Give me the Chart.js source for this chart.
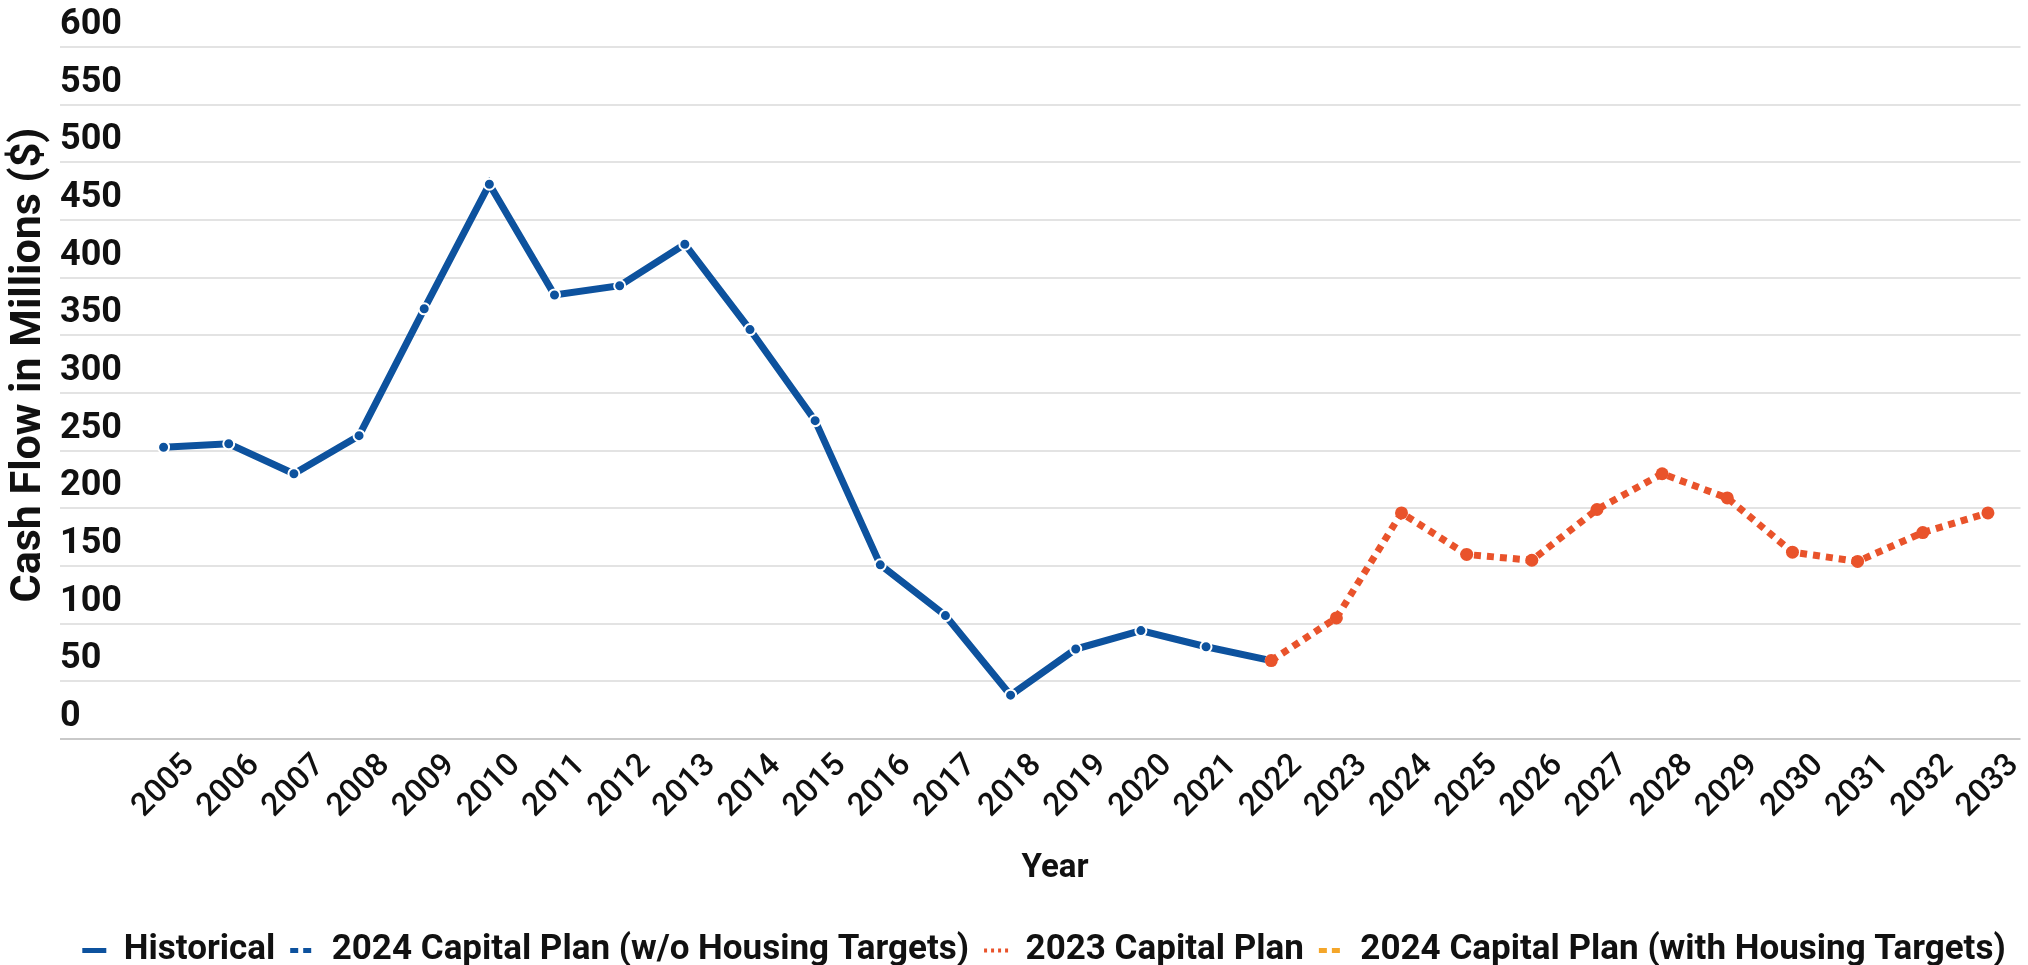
<!DOCTYPE html>
<html>
<head>
<meta charset="utf-8">
<script src="https://cdn.jsdelivr.net/npm/chart.js@4.4.1/dist/chart.umd.min.js"></script>
<style>
  html, body { margin: 0; padding: 0; background: #ffffff; }
  #wrap { width: 2028px; height: 965px; position: relative; }
</style>
</head>
<body>
<div id="wrap"><canvas id="c" width="2028" height="965"></canvas></div>
<script>
const years = ['2005','2006','2007','2008','2009','2010','2011','2012','2013','2014','2015','2016','2017','2018','2019','2020','2021','2022','2023','2024','2025','2026','2027','2028','2029','2030','2031','2032','2033'];
const historical = [253,256,230,263,373,481,385,393,429,355,276,151,107,38,78,94,80,68,null,null,null,null,null,null,null,null,null,null,null];
const plan2024NoHousing = [];
const plan2023 = [null,null,null,null,null,null,null,null,null,null,null,null,null,null,null,null,null,68,105,196,160,155,199,230,209,162,154,179,196];
const plan2024Housing = [];
const yTicks = [0,50,100,150,200,250,300,350,400,450,500,550,600];
const yTitle = 'Cash Flow in Millions ($)';
const xTitle = 'Year';

const BLUE = '#0d529e';
const ORANGE = '#e9532b';
const YELLOW = '#f4a62a';
const FONT = 'Roboto, "Liberation Sans", sans-serif';

const legendStyles = [
  { color: BLUE, width: 5, dash: [] },
  { color: BLUE, width: 5, dash: [8, 5] },
  { color: ORANGE, width: 4, dash: [3, 4] },
  { color: YELLOW, width: 5, dash: [8, 5] }
];

const titlePlugin = {
  id: 'titles',
  afterDraw(chart) {
    const ctx = chart.ctx;
    ctx.save();
    ctx.fillStyle = '#111111';
    ctx.textAlign = 'center';
    ctx.textBaseline = 'middle';
    ctx.font = 'bold 43px ' + FONT;
    ctx.translate(29, 365);
    ctx.rotate(-Math.PI / 2);
    ctx.fillText(yTitle, 0, 0);
    ctx.restore();
    ctx.save();
    ctx.fillStyle = '#111111';
    ctx.textAlign = 'center';
    ctx.textBaseline = 'middle';
    ctx.font = 'bold 33px ' + FONT;
    ctx.fillText(xTitle, 1055, 869);
    ctx.restore();
  }
};

new Chart(document.getElementById('c'), {
  type: 'line',
  data: {
    labels: years,
    datasets: [
      {
        label: 'Historical',
        data: historical,
        borderColor: BLUE,
        backgroundColor: BLUE,
        borderWidth: 7,
        pointRadius: 5.5,
        pointBackgroundColor: BLUE,
        pointBorderColor: '#ffffff',
        pointBorderWidth: 2,
        tension: 0,
        spanGaps: false,
        order: 2
      },
      {
        label: '2024 Capital Plan (w/o Housing Targets)',
        data: plan2024NoHousing,
        borderColor: BLUE,
        backgroundColor: BLUE,
        borderWidth: 5,
        borderDash: [9, 5],
        pointRadius: 0,
        order: 3
      },
      {
        label: '2023 Capital Plan',
        data: plan2023,
        borderColor: ORANGE,
        backgroundColor: ORANGE,
        borderWidth: 7,
        borderDash: [7, 6],
        borderCapStyle: 'butt',
        pointRadius: 6.5,
        pointBackgroundColor: ORANGE,
        pointBorderColor: ORANGE,
        pointBorderWidth: 0,
        tension: 0,
        order: 1
      },
      {
        label: '2024 Capital Plan (with Housing Targets)',
        data: plan2024Housing,
        borderColor: YELLOW,
        backgroundColor: YELLOW,
        borderWidth: 5,
        borderDash: [9, 5],
        pointRadius: 0,
        order: 4
      }
    ]
  },
  options: {
    responsive: false,
    animation: false,
    devicePixelRatio: 1,
    layout: { padding: { left: 60, top: 47, right: 0, bottom: -13 } },
    plugins: {
      legend: {
        display: true,
        position: 'bottom',
        labels: {
          usePointStyle: true,
          pointStyleWidth: 24,
          padding: 15,
          color: '#111111',
          font: { family: FONT, size: 35, weight: 'bold' },
          generateLabels(chart) {
            return chart.data.datasets.map((ds, i) => ({
              text: ds.label,
              datasetIndex: i,
              fillStyle: legendStyles[i].color,
              strokeStyle: legendStyles[i].color,
              lineWidth: legendStyles[i].width,
              lineDash: legendStyles[i].dash,
              lineCap: 'butt',
              pointStyle: 'line',
              hidden: false,
              fontColor: '#111111'
            }));
          }
        }
      },
      tooltip: { enabled: false }
    },
    scales: {
      x: {
        type: 'category',
        offset: true,
        grid: { display: false, drawTicks: false },
        border: { display: false },
        ticks: {
          autoSkip: false,
          maxRotation: 45,
          minRotation: 45,
          labelOffset: 26,
          padding: 8,
          color: '#111111',
          font: { family: FONT, size: 32, weight: '500' }
        },
        afterFit(scale) { scale.height = 179; }
      },
      y: {
        min: 0,
        max: 600,
        afterBuildTicks(scale) { scale.ticks = yTicks.map(v => ({ value: v })); },
        grid: {
          color: (c) => c.tick && c.tick.value === 0 ? '#c9c9c9' : '#e3e3e3',
          lineWidth: 2,
          tickLength: 71,
          drawTicks: true
        },
        border: { display: false },
        ticks: {
          crossAlign: 'far',
          labelOffset: -22,
          padding: 0,
          color: '#111111',
          font: { family: FONT, size: 36, weight: 'bold' }
        },
        afterFit(scale) { scale.width = 71; }
      }
    }
  },
  plugins: [titlePlugin]
});
</script>
</body>
</html>
